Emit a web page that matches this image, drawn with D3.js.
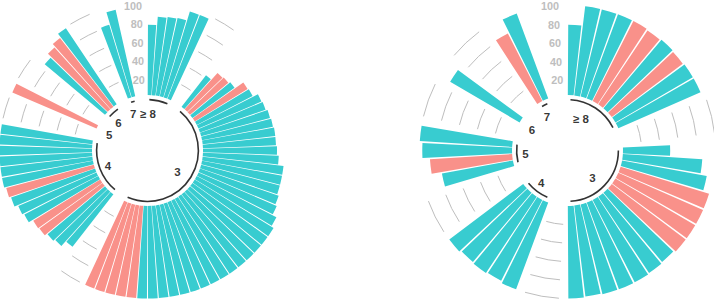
<!DOCTYPE html>
<html><head><meta charset="utf-8">
<script src="https://cdn.jsdelivr.net/npm/d3@7"></script>
<style>body{margin:0;background:#fff}svg{display:block}</style>
</head><body><svg id="chart" width="714" height="299"></svg>
<script>
// ---------- data ----------
const groupNames = ["≥ 8", "3", "4", "5", "6", "7"];
const gridTicks = [20, 40, 60, 80, 100];
const emptyBars = 3;

// left panel: values per group (in plotting order) and type (A = teal, B = salmon)
const leftGe8   = [76, 85, 86, 87, 97, 97];
const leftGe8T  = ["A","A","A","A","A","A"];
const left3     = [43, 53, 54, 56, 67, 68, 74, 75, 77, 78, 79, 79, 80, 82, 88, 88, 88, 90, 92, 97,
                   100, 100, 100, 100, 100, 100, 100, 100, 100, 100, 100, 100, 100, 100, 100, 100, 100, 100, 100, 100];
const left3T    = ["A","B","B","A","B","A","A","A","A","A","A","A","A","A","A","A","A","A","A","A",
                   "A","A","A","A","A","A","A","A","A","A","A","A","A","A","A","B","B","B","B","B"];
const left4     = [72, 79, 81, 84, 85, 90, 92, 96, 98, 100, 100, 100, 100, 100, 100];
const left4T    = ["A","A","A","B","B","A","A","A","B","A","A","A","A","A","A"];
const left5     = [99];
const left5T    = ["B"];
const left6     = [85, 90, 94, 99];
const left6T    = ["A","B","B","A"];
const left7     = [82, 96];
const left7T    = ["A","A"];

// right panel
const rightGe8  = [76, 97, 97, 97, 97, 96, 97, 96, 97, 97];
const rightGe8T = ["A","A","A","A","B","B","A","B","A","A"];
const right3    = [51, 86, 93, 100, 100, 100, 100, 98, 99, 100, 100, 100, 99, 100];
const right3T   = ["A","A","A","B","B","B","B","A","A","A","A","A","A","A"];
const right4    = [100, 98, 99, 98, 100];
const right4T   = ["A","A","A","A","A"];
const right5    = [78, 89, 97, 100];
const right5T   = ["A","B","A","A"];
const right6    = [87];
const right6T   = ["A"];
const right7    = [82, 98];
const right7T   = ["B","A"];

const typeColor = {A: "#38CCD0", B: "#F9918A"};

const panels = [
  {cx: 147.5, cy: 150.5, groups: [[leftGe8,leftGe8T],[left3,left3T],[left4,left4T],[left5,left5T],[left6,left6T],[left7,left7T]]},
  {cx: 567.5, cy: 150.5, groups: [[rightGe8,rightGe8T],[right3,right3T],[right4,right4T],[right5,right5T],[right6,right6T],[right7,right7T]]}
];

const svg = d3.select("#chart");
svg.append("rect").attr("width", 714).attr("height", 299).attr("fill", "#fff");

panels.forEach(p => {
  const bars = [];
  const base = [];
  let id = 1;
  p.groups.forEach((g, gi) => {
    const start = id;
    g[0].forEach((v, k) => { bars.push({id: id, value: v, type: g[1][k], group: groupNames[gi]}); id++; });
    const end = id - 1;
    base.push({group: groupNames[gi], start, end, title: (start + end) / 2});
    id += emptyBars;
  });
  const N = id - 1;

  const x = d3.scaleBand().domain(d3.range(1, N + 1)).range([0, 2 * Math.PI])
    .paddingInner(0.1).paddingOuter(0.05);
  const step = x.step();
  const theta = i => (i - 0.5) * step;
  const r = d3.scaleLinear().domain([-60, 100]).range([0, 148]);

  const g = svg.append("g").attr("transform", `translate(${p.cx},${p.cy})`);

  const arcPath = (a0, a1, rad) => {
    const path = d3.path();
    path.arc(0, 0, rad, a0 - Math.PI / 2, a1 - Math.PI / 2, false);
    return path.toString();
  };
  for (let k = 1; k < base.length; k++) {
    const from = base[k - 1].end + 1, to = base[k].start - 1;
    gridTicks.forEach(t => {
      g.append("path").attr("d", arcPath(theta(from), theta(to), r(t)))
        .attr("fill", "none").attr("stroke", "#BEBEBE").attr("stroke-width", 1);
    });
  }

  const arc = d3.arc()
    .innerRadius(r(0))
    .outerRadius(d => r(d.value))
    .startAngle(d => x(d.id))
    .endAngle(d => x(d.id) + x.bandwidth());
  g.selectAll("path.bar").data(bars).join("path").attr("class", "bar")
    .attr("d", arc).attr("fill", d => typeColor[d.type]);

  gridTicks.forEach(t => {
    const a = theta(N), rad = r(t);
    g.append("text").attr("x", rad * Math.sin(a)).attr("y", -rad * Math.cos(a))
      .attr("dy", "0.68em").attr("text-anchor", "end")
      .attr("font-family", "Liberation Sans, Arial, sans-serif").attr("font-weight", "bold")
      .attr("font-size", 10.8).attr("fill", "#BEBEBE").text(t);
  });

  base.forEach(b => {
    if (b.end > b.start) {
      g.append("path").attr("d", arcPath(theta(b.start), theta(b.end), r(-5)))
        .attr("fill", "none").attr("stroke", "#000").attr("stroke-opacity", 0.8).attr("stroke-width", 1.6);
    }
    const a = theta(b.title), rad = r(-18);
    g.append("text").attr("x", rad * Math.sin(a)).attr("y", -rad * Math.cos(a))
      .attr("dy", "0.45em").attr("text-anchor", "end")
      .attr("font-family", "Liberation Sans, Arial, sans-serif").attr("font-weight", "bold")
      .attr("font-size", 11.5).attr("fill", "#000").attr("fill-opacity", 0.8).text(b.group);
  });
});
</script></body></html>
